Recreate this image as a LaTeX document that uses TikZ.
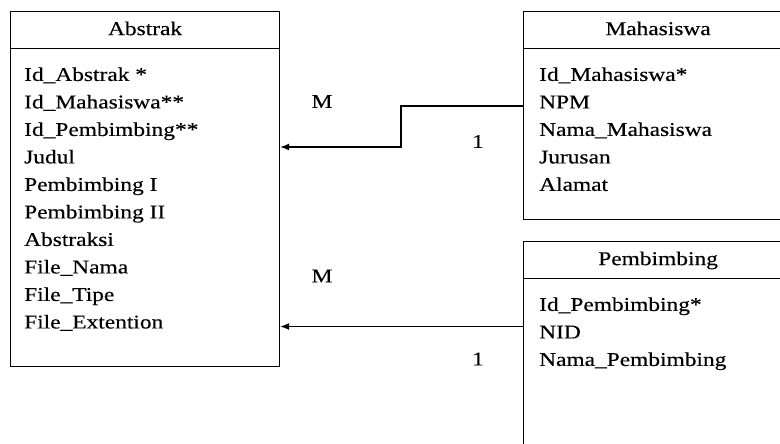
\documentclass[tikz,border=0pt]{standalone}
\usepackage{fontspec}
\setmainfont{Liberation Serif}[FakeStretch=1.2, FakeBold=0.3]
\usetikzlibrary{positioning,arrows.meta}

\begin{document}
\begin{tikzpicture}[
	x=1pt, y=-1pt,
	every node/.style={
		font=\fontsize{19.5}{27.5}\selectfont,
		inner sep=0pt
	},
	entitas/.style={draw, line width=1.2pt, minimum width=269pt, anchor=north west},
	judul/.style={draw, line width=1.2pt, minimum width=269pt, minimum height=37pt,
		anchor=north, text height=14pt, text depth=4pt},
	atribut/.style={align=left},
	relasi/.style={draw, line width=1.2pt, -{Latex[length=9pt, width=7pt]}}
]
\useasboundingbox (0,0) rectangle (780,444);
\clip (0,0) rectangle (780,444);

% tabel
\node[entitas, minimum height=355pt] (abstrak) at (10,11) {};
\node[judul] (abstrakjudul) at (abstrak.north) {Abstrak};
\node[atribut, below right=18pt and 14pt of abstrakjudul.south west] (abstrakisi) {Id\_Abstrak *\\ Id\_Mahasiswa**\\ Id\_Pembimbing**\\ Judul\\ Pembimbing I\\ Pembimbing II\\ Abstraksi\\ File\_Nama\\ File\_Tipe\\ File\_Extention};

\node[entitas, minimum height=208pt] (mahasiswa) at (523,11) {};
\node[judul] (mahasiswajudul) at (mahasiswa.north) {Mahasiswa};
\node[atribut, below right=18pt and 16pt of mahasiswajudul.south west] (mahasiswaisi) {Id\_Mahasiswa*\\ NPM\\ Nama\_Mahasiswa\\ Jurusan\\ Alamat};

\node[entitas, minimum height=250pt] (pembimbing) at (523,241) {};
\node[judul] (pembimbingjudul) at (pembimbing.north) {Pembimbing};
\node[atribut, below right=18pt and 16pt of pembimbingjudul.south west] (pembimbingisi) {Id\_Pembimbing*\\ NID\\ Nama\_Pembimbing};

% relasi
\coordinate (belok1) at (401,106);
\coordinate (belok2) at (401,147);
\coordinate (garis2) at (401,326.5);
\draw[relasi] (mahasiswa.west |- belok1) -- (belok1) -- (belok2) -- (abstrak.east |- belok2);
\draw[relasi] (pembimbing.west |- garis2) -- (abstrak.east |- garis2);

\node (m1) at (322,101.5) {M};
\node (satu1) at (478,141.5) {1};
\node (m2) at (322,276) {M};
\node (satu2) at (478,359) {1};
\end{tikzpicture}
\end{document}
